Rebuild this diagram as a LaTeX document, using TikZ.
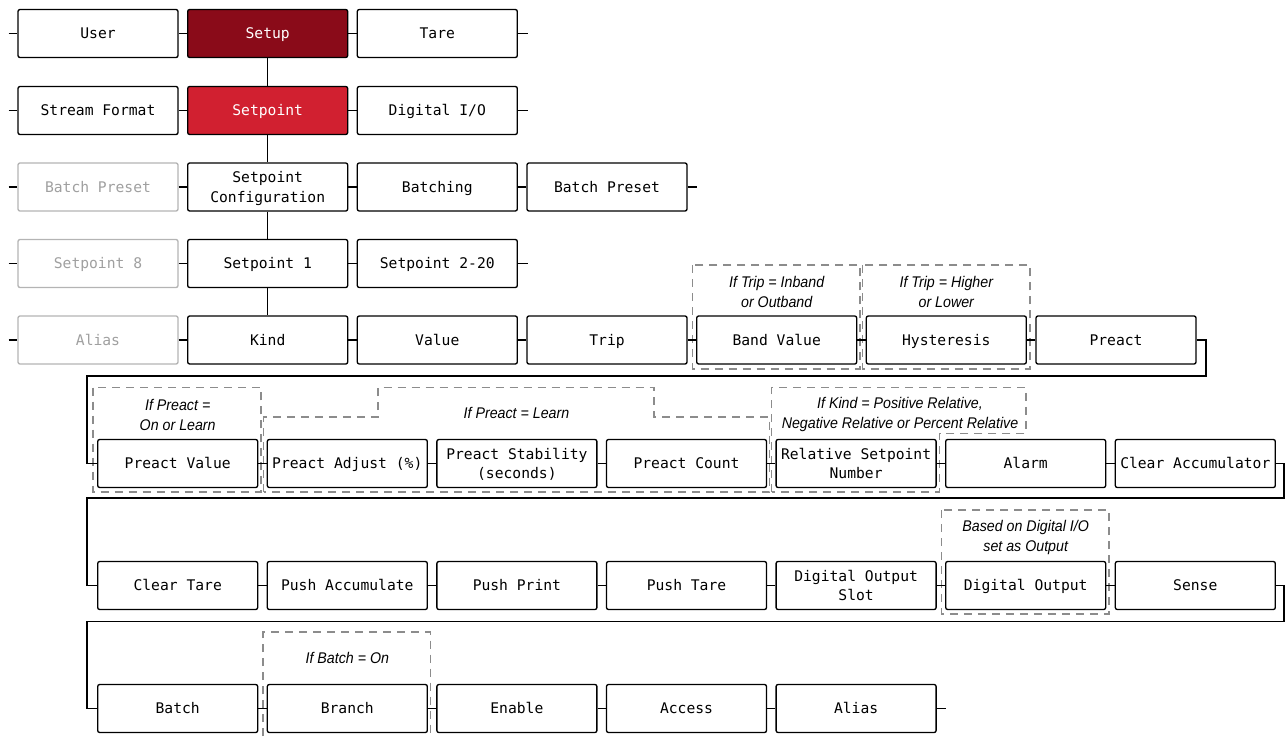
\documentclass[tikz,border=0pt]{standalone}
\usepackage{fontspec}
\newfontfamily\monof{DejaVu Sans Mono}
\newfontfamily\labf[FakeStretch=0.92]{Liberation Sans}
\definecolor{setupred}{HTML}{8A0B19}
\definecolor{setpointred}{HTML}{D12030}
\definecolor{greyedge}{HTML}{B4B4B4}
\definecolor{greytext}{HTML}{A0A0A0}
\definecolor{dashgrey}{HTML}{8C8C8C}
\newcommand{\bxstrut}{\rule[-3.5pt]{0pt}{15pt}}
\newcommand{\bxdepth}{\rule[-3.5pt]{0pt}{3.5pt}}
\begin{document}
\begin{tikzpicture}[x=0.75pt,y=-0.75pt,
  box/.style={draw=black,fill=white,line width=1pt,rounded corners=1.5pt,
    minimum width=120pt,minimum height=36pt,inner sep=0pt,align=center,
    font=\monof\fontsize{11}{14.6}\selectfont},
  greybox/.style={box,draw=greyedge,text=greytext},
  darkbox/.style={box,fill=setupred,text=white},
  redbox/.style={box,fill=setpointred,text=white},
  conn/.style={draw=black,line width=1pt},
  grp/.style={draw=dashgrey,line width=0.8pt,dash pattern=on 6pt off 4.5pt},
  lbl/.style={inner sep=0pt,align=center,font=\labf\itshape\fontsize{11.6}{15}\selectfont}]
\useasboundingbox (0,0) rectangle (1285,736);

% dashed groups
\draw[grp] (692.7,265) rectangle (860,369);
\draw[grp] (862.6,265) rectangle (1030,369);
\draw[grp] (93,387.7) rectangle (261,492);
\draw[grp] (263.8,492) -- (263.8,417) -- (378,417) -- (378,387.7) -- (654,387.7) -- (654,417) -- (769.6,417) -- (769.6,492) -- cycle;
\draw[grp] (771.5,492) -- (771.5,387.7) -- (1026,387.7) -- (1026,433.3) -- (939.5,433.3) -- (939.5,492) -- cycle;
\draw[grp] (941.8,510) rectangle (1109,614);
\draw[grp] (263,736) -- (263,632) -- (430.5,632) -- (430.5,736);

% labels
\node[lbl] (lab1) at (776.7,292) {If Trip = Inband\\or Outband};
\node[lbl] (lab2) at (946.3,292) {If Trip = Higher\\or Lower};
\node[lbl] (lab3) at (177.7,415) {If Preact =\\On or Learn};
\node[lbl] (lab4) at (516.5,413) {If Preact = Learn};
\node[lbl] (lab5) at (900,414) {If Kind = Positive Relative,\\Negative Relative or Percent Relative};
\node[lbl] (lab6) at (1025.7,537) {Based on Digital I/O\\set as Output};
\node[lbl] (lab7) at (347.3,658) {If Batch = On};

% row 1
\node[box] (user) at (98,33.5) {\bxstrut User};
\node[darkbox] (setup) at (267.7,33.5) {\bxstrut Setup};
\node[box] (tare) at (437.3,33.5) {\bxstrut Tare};
% row 2
\node[box] (stream) at (98,110.5) {\bxstrut Stream Format};
\node[redbox] (setpoint) at (267.7,110.5) {\bxstrut Setpoint};
\node[box] (dio) at (437.3,110.5) {\bxstrut Digital I/O};
% row 3
\node[greybox] (bpA) at (98,187) {\bxstrut Batch Preset};
\node[box] (spc) at (267.7,187) {\bxstrut Setpoint\\Configuration\bxdepth};
\node[box] (batching) at (437.3,187) {\bxstrut Batching};
\node[box] (bpB) at (607,187) {\bxstrut Batch Preset};
% row 4
\node[greybox] (sp8) at (98,263.5) {\bxstrut Setpoint 8};
\node[box] (sp1) at (267.7,263.5) {\bxstrut Setpoint 1};
\node[box] (sp220) at (437.3,263.5) {\bxstrut Setpoint 2-20};
% row 5
\node[greybox] (aliasA) at (98,340) {\bxstrut Alias};
\node[box] (kind) at (267.7,340) {\bxstrut Kind};
\node[box] (value) at (437.3,340) {\bxstrut Value};
\node[box] (trip) at (607,340) {\bxstrut Trip};
\node[box] (band) at (776.7,340) {\bxstrut Band Value};
\node[box] (hyst) at (946.3,340) {\bxstrut Hysteresis};
\node[box] (preact) at (1116,340) {\bxstrut Preact};
% row 6
\node[box] (pv) at (177.7,463.5) {\bxstrut Preact Value};
\node[box] (padj) at (347.3,463.5) {\bxstrut Preact Adjust (\%)};
\node[box] (pstab) at (516.9,463.5) {\bxstrut Preact Stability\\(seconds)\bxdepth};
\node[box] (pcount) at (686.5,463.5) {\bxstrut Preact Count};
\node[box] (relsp) at (856.1,463.5) {\bxstrut Relative Setpoint\\Number\bxdepth};
\node[box] (alarm) at (1025.7,463.5) {\bxstrut Alarm};
\node[box] (clracc) at (1195.3,463.5) {\bxstrut Clear Accumulator};
% row 7
\node[box] (clrtare) at (177.7,585.5) {\bxstrut Clear Tare};
\node[box] (pushacc) at (347.3,585.5) {\bxstrut Push Accumulate};
\node[box] (pushprint) at (516.9,585.5) {\bxstrut Push Print};
\node[box] (pushtare) at (686.5,585.5) {\bxstrut Push Tare};
\node[box] (doslot) at (856.1,585.5) {\bxstrut Digital Output\\Slot\bxdepth};
\node[box] (dout) at (1025.7,585.5) {\bxstrut Digital Output};
\node[box] (sense) at (1195.3,585.5) {\bxstrut Sense};
% row 8
\node[box] (batch) at (177.7,708.5) {\bxstrut Batch};
\node[box] (branch) at (347.3,708.5) {\bxstrut Branch};
\node[box] (enable) at (516.9,708.5) {\bxstrut Enable};
\node[box] (access) at (686.5,708.5) {\bxstrut Access};
\node[box] (aliasB) at (856.1,708.5) {\bxstrut Alias};

% free ends
\coordinate (l1) at (8.5,33.5);
\coordinate (l2) at (8.5,110.5);
\coordinate (l3) at (8.5,187);
\coordinate (l4) at (8.5,263.5);
\coordinate (l5) at (8.5,340);
\coordinate (r1) at (527.5,33.5);
\coordinate (r2) at (527.5,110.5);
\coordinate (r3) at (697,187);
\coordinate (r4) at (527.5,263.5);
\coordinate (r8) at (946,708.5);
\coordinate (w1a) at (1206,376);
\coordinate (w1b) at (87,376);
\coordinate (w2a) at (1284,498);
\coordinate (w2b) at (87,498);
\coordinate (w3a) at (1284,621.5);
\coordinate (w3b) at (87,621.5);

% connectors
\draw[conn] (l1) -- (user.west);
\draw[conn] (user.east) -- (setup.west);
\draw[conn] (setup.east) -- (tare.west);
\draw[conn] (tare.east) -- (r1);
\draw[conn] (l2) -- (stream.west);
\draw[conn] (stream.east) -- (setpoint.west);
\draw[conn] (setpoint.east) -- (dio.west);
\draw[conn] (dio.east) -- (r2);
\draw[conn] (l3) -- (bpA.west);
\draw[conn] (bpA.east) -- (spc.west);
\draw[conn] (spc.east) -- (batching.west);
\draw[conn] (batching.east) -- (bpB.west);
\draw[conn] (bpB.east) -- (r3);
\draw[conn] (l4) -- (sp8.west);
\draw[conn] (sp8.east) -- (sp1.west);
\draw[conn] (sp1.east) -- (sp220.west);
\draw[conn] (sp220.east) -- (r4);
\draw[conn] (l5) -- (aliasA.west);
\draw[conn] (aliasA.east) -- (kind.west);
\draw[conn] (kind.east) -- (value.west);
\draw[conn] (value.east) -- (trip.west);
\draw[conn] (trip.east) -- (band.west);
\draw[conn] (band.east) -- (hyst.west);
\draw[conn] (hyst.east) -- (preact.west);
\draw[conn] (setup.south) -- (setpoint.north);
\draw[conn] (setpoint.south) -- (spc.north);
\draw[conn] (spc.south) -- (sp1.north);
\draw[conn] (sp1.south) -- (kind.north);
\draw[conn] (preact.east) -| (w1a) -- (w1b) |- (pv.west);
\draw[conn] (pv.east) -- (padj.west);
\draw[conn] (padj.east) -- (pstab.west);
\draw[conn] (pstab.east) -- (pcount.west);
\draw[conn] (pcount.east) -- (relsp.west);
\draw[conn] (relsp.east) -- (alarm.west);
\draw[conn] (alarm.east) -- (clracc.west);
\draw[conn] (clracc.east) -| (w2a) -- (w2b) |- (clrtare.west);
\draw[conn] (clrtare.east) -- (pushacc.west);
\draw[conn] (pushacc.east) -- (pushprint.west);
\draw[conn] (pushprint.east) -- (pushtare.west);
\draw[conn] (pushtare.east) -- (doslot.west);
\draw[conn] (doslot.east) -- (dout.west);
\draw[conn] (dout.east) -- (sense.west);
\draw[conn] (sense.east) -| (w3a) -- (w3b) |- (batch.west);
\draw[conn] (batch.east) -- (branch.west);
\draw[conn] (branch.east) -- (enable.west);
\draw[conn] (enable.east) -- (access.west);
\draw[conn] (access.east) -- (aliasB.west);
\draw[conn] (aliasB.east) -- (r8);
\end{tikzpicture}
\end{document}
